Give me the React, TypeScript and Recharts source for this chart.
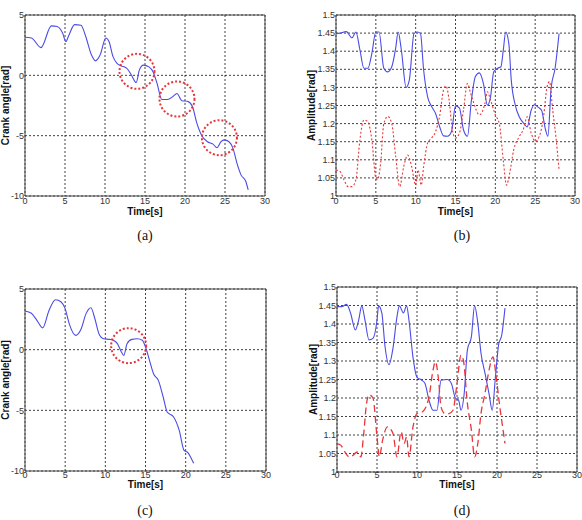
import React from "react";
import { CartesianGrid, Label, Line, LineChart, ReferenceArea, ReferenceDot, XAxis, YAxis } from "recharts";

// time ticks shared by all four panels
const timeTicks = [0, 5, 10, 15, 20, 25, 30];
const angleTicks = [-10, -5, 0, 5];
const ampTicks = [1, 1.05, 1.1, 1.15, 1.2, 1.25, 1.3, 1.35, 1.4, 1.45, 1.5];

// (a) crank angle
const aTime = [0, 0.8, 2, 3.3, 4, 4.7, 5.1, 5.5, 6.2, 7, 7.6, 8.3, 8.8, 9.4, 10.1, 10.5, 11, 11.5, 12, 12.7, 13.3, 13.9, 14.3, 14.8, 15.5, 16, 16.5, 17.1, 17.8, 18.5, 19, 19.6, 20.3, 20.9, 21.5, 22.1, 22.8, 23.5, 24, 24.5, 24.9, 25.5, 26, 26.5, 27, 27.6, 27.9];
const aAngle = [3.15, 3.1, 2.3, 4.1, 4.05, 3.5, 2.8, 3.35, 4.2, 4.15, 3.2, 1.7, 1.2, 1.7, 3.1, 2.8, 1.55, 1.0, 0.8, 0.6, 0.03, -0.6, 0.45, 0.85, 0.7, 0.3, -0.65, -2.0, -2.0, -1.75, -1.5, -2.1, -2.15, -2.55, -4.0, -5.0, -5.5, -5.7, -6.0, -5.5, -5.35, -5.5, -6.05, -7.3, -8.25, -8.8, -9.5];
const aCircleT = [14.0, 19.0, 24.3];
const aCircleV = [0.33, -1.96, -5.17];

// (b) amplitudes
const bBlueTime = [0, 0.5, 1.3, 2, 2.5, 3, 3.5, 4, 4.5, 5, 5.4, 6, 6.5, 7, 7.5, 7.8, 8.2, 8.8, 9.2, 9.8, 10.2, 10.6, 11, 11.5, 12, 12.5, 13, 13.5, 14, 14.5, 15, 15.5, 16, 16.5, 17, 17.5, 18, 18.5, 19, 19.4, 19.8, 20.3, 20.7, 21, 21.3, 21.7, 22, 22.5, 23, 23.6, 24, 24.5, 24.9, 25.4, 25.8, 26.3, 26.6, 27, 27.5, 28];
const bBlue = [1.448, 1.45, 1.454, 1.437, 1.453, 1.404, 1.353, 1.353, 1.394, 1.453, 1.453, 1.353, 1.343, 1.357, 1.41, 1.453, 1.404, 1.3, 1.32, 1.449, 1.453, 1.449, 1.348, 1.274, 1.247, 1.228, 1.192, 1.166, 1.165, 1.178, 1.249, 1.243, 1.183, 1.165, 1.265, 1.33, 1.34, 1.311, 1.251, 1.274, 1.343, 1.353, 1.357, 1.403, 1.453, 1.42, 1.32, 1.251, 1.219, 1.2, 1.191, 1.237, 1.252, 1.245, 1.237, 1.183, 1.165, 1.297, 1.353, 1.449];
const bRedTime = [0, 0.5, 1, 1.5, 2, 2.5, 3, 3.5, 4, 4.5, 5, 5.2, 5.6, 6, 6.5, 7, 7.5, 8, 8.5, 9, 9.5, 10, 10.3, 10.7, 11, 11.5, 12, 12.5, 13, 13.5, 13.8, 14.2, 14.6, 15, 15.5, 16, 16.5, 16.9, 17.3, 18, 18.7, 19, 19.4, 20, 20.5, 21, 21.4, 21.8, 22.3, 23, 23.5, 24, 24.5, 25, 25.5, 26, 26.5, 26.8, 27.2, 27.6, 28];
const bRed = [1.072, 1.068, 1.045, 1.026, 1.026, 1.045, 1.155, 1.21, 1.205, 1.155, 1.049, 1.045, 1.09, 1.2, 1.22, 1.2, 1.108, 1.026, 1.081, 1.113, 1.081, 1.03, 1.072, 1.03, 1.081, 1.146, 1.16, 1.178, 1.22, 1.293, 1.304, 1.265, 1.183, 1.16, 1.174, 1.237, 1.311, 1.284, 1.256, 1.224, 1.256, 1.288, 1.265, 1.224, 1.2, 1.099, 1.03, 1.063, 1.127, 1.164, 1.183, 1.219, 1.174, 1.151, 1.164, 1.21, 1.302, 1.316, 1.237, 1.164, 1.072];

// (c) crank angle
const cTime = [0, 0.8, 1.5, 2.2, 3, 3.8, 4.5, 5, 5.5, 6.3, 7, 7.6, 8.2, 8.7, 9.2, 9.8, 10.5, 11, 11.5, 12, 12.3, 12.7, 13.3, 14, 14.6, 15, 15.5, 16, 16.6, 17.2, 17.7, 18.5, 19.2, 19.8, 20.3, 20.7, 21];
const cAngle = [3.19, 3.0, 2.4, 1.8, 3.25, 4.12, 3.93, 3.38, 2.14, 1.18, 1.73, 2.97, 3.46, 2.55, 1.32, 0.9, 0.85, 0.77, 0.5, -0.19, -0.47, 0.49, 0.85, 0.9, 0.77, 0.22, -0.88, -1.98, -2.53, -3.9, -5.14, -5.55, -6.65, -8.3, -8.5, -8.97, -9.37];
const cCircleT = [12.9];
const cCircleV = [0.33];

// (d) amplitudes
const dBlueTime = [0, 0.6, 1.2, 1.7, 2.3, 2.7, 3.1, 3.5, 4, 4.5, 5, 5.2, 5.6, 6, 6.5, 7, 7.5, 7.8, 8.3, 8.7, 9, 9.5, 10, 10.6, 11, 11.5, 12, 12.5, 13, 13.8, 14.3, 14.8, 15.2, 15.5, 15.9, 16.3, 16.8, 17.2, 17.6, 18, 18.5, 19, 19.4, 19.8, 20.2, 20.6, 21];
const dBlue = [1.447, 1.447, 1.453, 1.429, 1.384, 1.41, 1.449, 1.41, 1.357, 1.361, 1.41, 1.449, 1.43, 1.34, 1.29, 1.335, 1.42, 1.449, 1.43, 1.449, 1.41, 1.31, 1.256, 1.248, 1.239, 1.194, 1.167, 1.167, 1.248, 1.25, 1.239, 1.2, 1.194, 1.167, 1.212, 1.33, 1.366, 1.449, 1.403, 1.321, 1.267, 1.212, 1.167, 1.256, 1.344, 1.371, 1.443];
const dRedTime = [0, 0.5, 1, 1.5, 2, 2.5, 3, 3.3, 3.7, 4, 4.5, 5, 5.3, 5.7, 6.3, 7, 7.5, 8, 8.4, 8.7, 9, 9.5, 10, 10.7, 11.5, 12, 12.3, 12.7, 13, 13.5, 14, 14.5, 15, 15.5, 15.8, 16.3, 16.8, 17.2, 17.6, 18, 18.5, 19, 19.5, 19.9, 20.3, 20.7, 21];
const dRed = [1.077, 1.072, 1.054, 1.041, 1.045, 1.054, 1.041, 1.095, 1.186, 1.209, 1.2, 1.095, 1.041, 1.086, 1.122, 1.104, 1.041, 1.109, 1.077, 1.095, 1.041, 1.122, 1.158, 1.163, 1.203, 1.275, 1.298, 1.248, 1.176, 1.158, 1.158, 1.167, 1.239, 1.316, 1.302, 1.185, 1.113, 1.041, 1.077, 1.158, 1.212, 1.275, 1.311, 1.257, 1.185, 1.122, 1.077];

const BLUE = "#4b4be6";
const RED = "#e8353a";
const FONT = "'Liberation Sans', Arial, sans-serif";

const rows = (t: number[], v: number[]) => t.map((x, i) => ({ t: x, v: v[i] }));

type Series = { t: number[]; v: number[]; color: string; dash?: string; width?: number };

type PanelProps = {
  left: number;
  top: number;
  width: number;
  margin: { top: number; right: number; left: number; bottom: number };
  yWidth: number;
  xHeight: number;
  yDomain: [number, number];
  yTicks: number[];
  yLabel: string;
  yLabelX: number;
  xLabelY: number;
  xTickMargin: number;
  series: Series[];
  circles?: { t: number[]; v: number[] };
};

function Panel(p: PanelProps) {
  const tick = { fill: "#333", fontSize: 9, fontFamily: FONT };
  return (
    <div style={{ position: "absolute", left: p.left, top: p.top }}>
      <LineChart width={p.width} height={230} margin={p.margin} style={{ fontFamily: FONT }}>
        <CartesianGrid stroke="#111" strokeDasharray="2 2" strokeWidth={0.8} />
        <XAxis
          type="number"
          dataKey="t"
          domain={[0, 30]}
          ticks={timeTicks}
          interval={0}
          height={p.xHeight}
          tick={tick}
          tickLine={false}
          axisLine={false}
          tickSize={0}
          tickMargin={p.xTickMargin}
          allowDuplicatedCategory={false}
        >
          <Label
            value="Time[s]"
            position="insideTop"
            offset={p.xLabelY}
            style={{ fontSize: 10, fontWeight: "bold", fill: "#111", fontFamily: FONT }}
          />
        </XAxis>
        <YAxis
          type="number"
          domain={p.yDomain}
          ticks={p.yTicks}
          interval={0}
          width={p.yWidth}
          tick={tick}
          tickLine={false}
          axisLine={false}
          tickSize={0}
          tickMargin={1}
        >
          <Label
            value={p.yLabel}
            angle={-90}
            position="insideLeft"
            offset={p.yLabelX}
            style={{ textAnchor: "middle", fontSize: 10, fontWeight: "bold", fill: "#111", fontFamily: FONT }}
          />
        </YAxis>
        <ReferenceArea x1={0} x2={30} y1={p.yDomain[0]} y2={p.yDomain[1]} fill="none" stroke="#444" strokeWidth={1} />
        {p.series.map((s, i) => (
          <Line
            key={i}
            data={rows(s.t, s.v)}
            dataKey="v"
            type="monotone"
            stroke={s.color}
            strokeWidth={s.width ?? 1.1}
            strokeDasharray={s.dash}
            dot={false}
            isAnimationActive={false}
          />
        ))}
        {p.circles &&
          p.circles.t.map((t, i) => (
            <ReferenceDot
              key={"c" + i}
              x={t}
              y={p.circles!.v[i]}
              r={17.5}
              fill="none"
              stroke={RED}
              strokeWidth={2}
              strokeDasharray="2 2"
            />
          ))}
      </LineChart>
    </div>
  );
}

const caption = (text: string, cx: number, cy: number) => (
  <div
    style={{
      position: "absolute",
      left: cx - 20,
      top: cy - 9,
      width: 40,
      height: 18,
      lineHeight: "18px",
      textAlign: "center",
      fontFamily: "'Liberation Serif', 'Times New Roman', serif",
      fontSize: 14,
      color: "#111",
    }}
  >
    {text}
  </div>
);

export default function App() {
  return (
    <div style={{ position: "absolute", left: 0, top: 0, width: 582, height: 520, background: "#fff" }}>
      <Panel
        left={0}
        top={0}
        width={290}
        margin={{ top: 15, right: 25, left: 0, bottom: 0 }}
        yWidth={25}
        xHeight={34}
        yDomain={[-10, 5]}
        yTicks={angleTicks}
        yLabel="Crank angle[rad]"
        yLabelX={5}
        xLabelY={12}
        xTickMargin={2}
        series={[{ t: aTime, v: aAngle, color: BLUE }]}
        circles={{ t: aCircleT, v: aCircleV }}
      />
      <Panel
        left={290}
        top={0}
        width={292}
        margin={{ top: 15, right: 7, left: 0, bottom: 0 }}
        yWidth={46}
        xHeight={34}
        yDomain={[1, 1.5]}
        yTicks={ampTicks}
        yLabel="Amplitude[rad]"
        yLabelX={21}
        xLabelY={12}
        xTickMargin={2}
        series={[
          { t: bBlueTime, v: bBlue, color: BLUE },
          { t: bRedTime, v: bRed, color: RED, dash: "2 2" },
        ]}
      />
      <Panel
        left={0}
        top={270}
        width={290}
        margin={{ top: 19, right: 24, left: 0, bottom: 0 }}
        yWidth={25}
        xHeight={29}
        yDomain={[-10, 5]}
        yTicks={angleTicks}
        yLabel="Crank angle[rad]"
        yLabelX={5}
        xLabelY={10}
        xTickMargin={1}
        series={[{ t: cTime, v: cAngle, color: BLUE }]}
        circles={{ t: cCircleT, v: cCircleV }}
      />
      <Panel
        left={290}
        top={270}
        width={292}
        margin={{ top: 17, right: 5, left: 0, bottom: 0 }}
        yWidth={47}
        xHeight={28}
        yDomain={[1, 1.5]}
        yTicks={ampTicks}
        yLabel="Amplitude[rad]"
        yLabelX={23.5}
        xLabelY={9}
        xTickMargin={0}
        series={[
          { t: dBlueTime, v: dBlue, color: BLUE },
          { t: dRedTime, v: dRed, color: RED, dash: "7 4", width: 1.3 },
        ]}
      />
      {caption("(a)", 145, 236)}
      {caption("(b)", 462, 236)}
      {caption("(c)", 145, 511)}
      {caption("(d)", 462, 511)}
    </div>
  );
}
